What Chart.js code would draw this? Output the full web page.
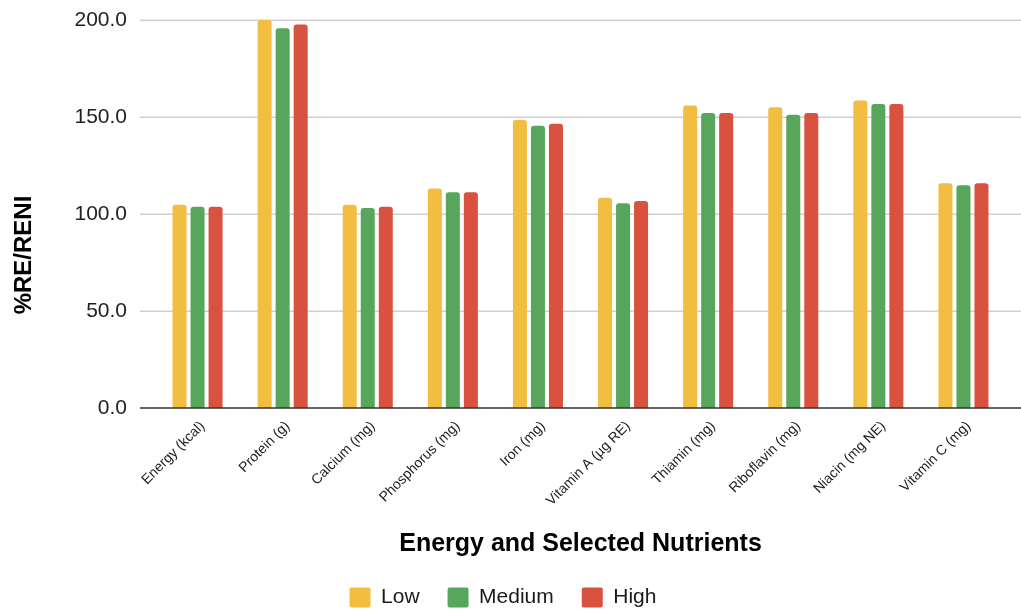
<!DOCTYPE html>
<html>
<head>
<meta charset="utf-8">
<script src="https://cdn.jsdelivr.net/npm/chart.js@4/dist/chart.umd.min.js"></script>
<style>
  html, body { margin: 0; padding: 0; background: #ffffff; }
  #wrap { width: 1021px; height: 612px; position: relative; }
  canvas { display: block; }
</style>
</head>
<body>
<div id="wrap"><canvas id="chart" width="1021" height="612"></canvas></div>
<script>
// Nutrients on the horizontal axis
const categories = [
  'Energy (kcal)', 'Protein (g)', 'Calcium (mg)', 'Phosphorus (mg)', 'Iron (mg)',
  'Vitamin A (\u00b5g RE)', 'Thiamin (mg)', 'Riboflavin (mg)', 'Niacin (mg NE)', 'Vitamin C (mg)'
];

// %RE/RENI per intake group
const lowValues    = [104.8, 200.0, 104.8, 113.1, 148.4, 108.4, 155.9, 155.0, 158.5, 115.8];
const mediumValues = [103.8, 195.7, 103.1, 111.2, 145.5, 105.5, 152.1, 151.2, 156.7, 114.8];
const highValues   = [103.8, 197.7, 103.8, 111.2, 146.5, 106.7, 152.1, 152.1, 156.7, 115.8];

const seriesNames = ['Low', 'Medium', 'High'];
const yTitle = '%RE/RENI';
const xTitle = 'Energy and Selected Nutrients';

const FONT = "'Liberation Sans', Arial, Helvetica, sans-serif";
const colors = ['#F1BE42', '#58A65C', '#D9513F'];

// Horizontal grid lines spanning the full width, plus the dark zero line
const gridPlugin = {
  id: 'fullGrid',
  beforeDatasetsDraw(chart) {
    const { ctx, scales: { y } } = chart;
    ctx.save();
    ctx.strokeStyle = '#d0d0d0';
    ctx.lineWidth = 1.5;
    y.ticks.forEach(t => {
      if (t.value === 0) return;
      const py = Math.round(y.getPixelForValue(t.value)) + 0.25;
      ctx.beginPath();
      ctx.moveTo(140, py);
      ctx.lineTo(chart.width, py);
      ctx.stroke();
    });
    ctx.restore();
  },
  afterDatasetsDraw(chart) {
    const { ctx, scales: { y } } = chart;
    const py = y.getPixelForValue(0);
    ctx.save();
    ctx.strokeStyle = '#333333';
    ctx.lineWidth = 1.6;
    ctx.beginPath();
    ctx.moveTo(140, py);
    ctx.lineTo(chart.width, py);
    ctx.stroke();
    ctx.restore();
  }
};

// Vertical axis title
const yTitlePlugin = {
  id: 'yTitle',
  afterDraw(chart) {
    const { ctx } = chart;
    ctx.save();
    ctx.translate(24, 255);
    ctx.rotate(-Math.PI / 2);
    ctx.font = "bold 24px " + FONT;
    ctx.fillStyle = '#000000';
    ctx.textAlign = 'center';
    ctx.textBaseline = 'middle';
    ctx.fillText(yTitle, 0, 0);
    ctx.restore();
  }
};

const valueSets = [lowValues, mediumValues, highValues];

new Chart(document.getElementById('chart'), {
  type: 'bar',
  data: {
    labels: categories,
    datasets: seriesNames.map((name, i) => ({
      label: name,
      data: valueSets[i],
      backgroundColor: colors[i],
      borderColor: colors[i],
      borderWidth: 0,
      borderRadius: 3,
      borderSkipped: 'bottom',
      categoryPercentage: 0.635,
      barPercentage: 0.778
    }))
  },
  options: {
    responsive: false,
    animation: false,
    devicePixelRatio: 1,
    layout: { padding: { left: 0, right: 15, top: 20, bottom: -6 } },
    plugins: {
      legend: {
        position: 'bottom',
        labels: {
          font: { family: FONT, size: 21 },
          color: '#1a1a1a',
          boxWidth: 21,
          boxHeight: 20,
          padding: 28,
          useBorderRadius: true,
          borderRadius: 2
        }
      },
      tooltip: { enabled: false }
    },
    scales: {
      x: {
        grid: { display: false, drawTicks: false },
        border: { display: false },
        ticks: {
          font: { family: FONT, size: 14 },
          color: '#222222',
          minRotation: 45,
          maxRotation: 45,
          autoSkip: false,
          padding: 10,
          labelOffset: 5
        },
        title: {
          display: true,
          text: xTitle,
          font: { family: FONT, size: 25, weight: 'bold' },
          color: '#000000',
          padding: { top: 0, bottom: 0 }
        },
        afterFit(scale) { scale.height = 151; }
      },
      y: {
        min: 0,
        max: 200,
        grid: { display: false, drawTicks: false },
        border: { display: false },
        ticks: {
          stepSize: 50,
          font: { family: FONT, size: 21 },
          color: '#222222',
          padding: 28,
          callback: v => Number(v).toFixed(1)
        },
        afterFit(scale) {
          scale.width = 155;
          scale.paddingTop = 12;
          scale.paddingBottom = 12;
        }
      }
    }
  },
  plugins: [gridPlugin, yTitlePlugin]
});
</script>
</body>
</html>
